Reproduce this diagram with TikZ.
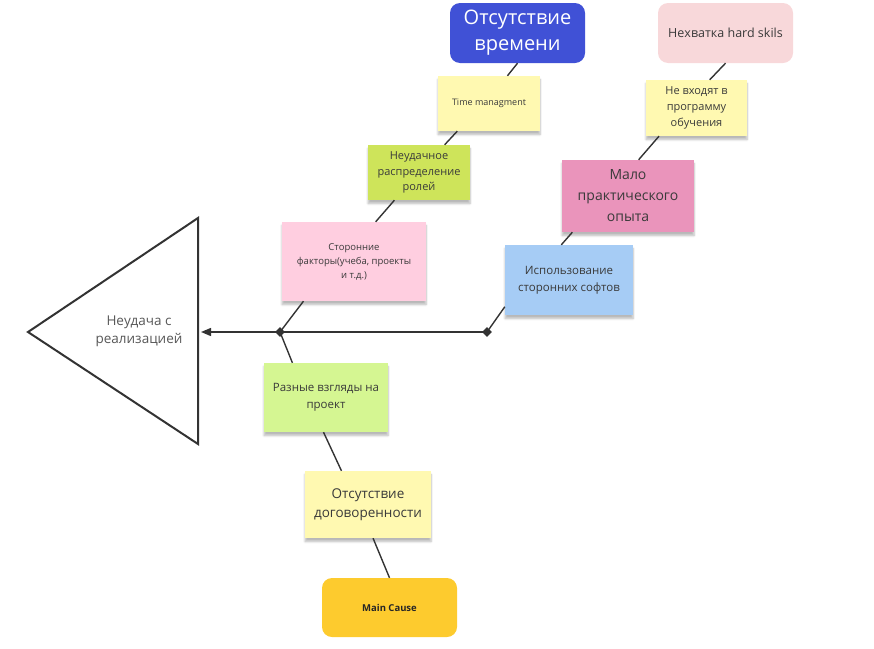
\documentclass[tikz,border=0pt]{standalone}
\usepackage{fontspec}
\setmainfont{Open Sans}
\usetikzlibrary{shapes.geometric,arrows.meta,calc,shadows.blur}
\definecolor{txt}{HTML}{3A3A3A}
\definecolor{linec}{HTML}{333333}
\definecolor{bluec}{HTML}{4051D6}
\definecolor{hardc}{HTML}{F8D8DA}
\definecolor{yellowc}{HTML}{FFF9B1}
\definecolor{limec}{HTML}{CEE45A}
\definecolor{lpinkc}{HTML}{FFCEE0}
\definecolor{lgreenc}{HTML}{D5F692}
\definecolor{pinkc}{HTML}{EA94BB}
\definecolor{lbluec}{HTML}{A6CCF5}
\definecolor{orangec}{HTML}{FDCB2E}
\begin{document}
\begin{tikzpicture}[x=1pt,y=-1pt,
  box/.style={draw=none, inner sep=0pt, align=center, text=txt},
  sticky/.style={box, blur shadow={shadow xshift=0pt,shadow yshift=-3.5pt,shadow opacity=28,shadow blur steps=6}},
  card/.style={box, rounded corners=10pt},
  bone/.style={draw=linec, line width=1.4pt},
  knot/.style={diamond, fill=linec, inner sep=0pt, minimum size=10pt},
  fsz/.style 2 args={font=\fontsize{#1}{#2}\selectfont}
]
\useasboundingbox (0,0) rectangle (874,648);
% head
\draw[draw=linec, line width=2pt, line join=miter] (28,332) -- (198,218) -- (198,444) -- cycle;
\node[box, text=txt!85, fsz={13.5}{18}] (fail) at (139,331) {Неудача с\\реализацией};
\coordinate (head) at (201,332);
% upper-left bone
\node[card, fill=bluec, text=white, minimum width=135pt, minimum height=60pt, fsz={20}{26}] (blue) at (517.5,33) {Отсутствие\\времени};
\node[sticky, fill=yellowc, minimum width=102pt, minimum height=55pt, fsz={9}{12}] (tm) at (489,103.5) {Time managment};
\node[sticky, fill=limec, minimum width=102pt, minimum height=55pt, fsz={11}{15.5}] (nr) at (419,172.5) {Неудачное\\распределение\\ролей};
\node[sticky, fill=lpinkc, minimum width=144pt, minimum height=79pt, fsz={9.5}{14}] (sf) at (354,261.5) {Сторонние\\факторы(учеба, проекты\\и т.д.)};
% lower bone
\node[sticky, fill=lgreenc, minimum width=124pt, minimum height=69pt, fsz={11.5}{17}] (rv) at (326,397.5) {Разные взгляды на\\проект};
\node[sticky, fill=yellowc, minimum width=126pt, minimum height=67pt, fsz={13.5}{19}] (od) at (368,504.5) {Отсутствие\\договоренности};
\node[card, fill=orangec, text=black!85, minimum width=135pt, minimum height=59pt, font=\fontsize{9.5}{12}\selectfont\bfseries] (mc) at (389.5,607.5) {Main Cause};
% right bone
\node[card, fill=hardc, minimum width=135pt, minimum height=60pt, fsz={12.5}{16}] (hard) at (725.5,33) {Нехватка hard skils};
\node[sticky, fill=yellowc, minimum width=101pt, minimum height=56pt, fsz={11}{16}] (nv) at (696.5,108) {Не входят в\\программу\\обучения};
\node[sticky, fill=pinkc, minimum width=132pt, minimum height=72pt, fsz={14}{21}] (mp) at (628,196) {Мало\\практического\\опыта};
\node[sticky, fill=lbluec, minimum width=128pt, minimum height=70pt, fsz={11.5}{17}] (is) at (569,280) {Использование\\сторонних софтов};
% knots
\node[knot] (d1) at (280,332) {};
\node[knot] (d2) at (487,332) {};
% spine
\draw[bone, -{Triangle[length=10pt,width=8pt]}] (d2.center) -- (head);
% connectors upper-left
\draw[bone] (blue.south) -- ($(tm.north west)!0.68!(tm.north east)$);
\draw[bone] ($(tm.south west)!0.19!(tm.south east)$) -- ($(nr.north west)!0.75!(nr.north east)$);
\draw[bone] ($(nr.south west)!0.26!(nr.south east)$) -- ($(sf.north west)!0.65!(sf.north east)$);
\draw[bone] ($(sf.south west)!0.15!(sf.south east)$) -- (d1.center);
% connectors lower
\draw[bone] (d1.center) -- ($(rv.north west)!0.23!(rv.north east)$);
\draw[bone] ($(rv.south west)!0.48!(rv.south east)$) -- ($(od.north west)!0.29!(od.north east)$);
\draw[bone] ($(od.south west)!0.54!(od.south east)$) -- (mc.north);
% connectors right
\draw[bone] (hard.south) -- ($(nv.north west)!0.63!(nv.north east)$);
\draw[bone] ($(nv.south west)!0.13!(nv.south east)$) -- ($(mp.north west)!0.58!(mp.north east)$);
\draw[bone] ($(mp.south west)!0.08!(mp.south east)$) -- ($(is.north west)!0.44!(is.north east)$);
\draw[bone] ($(is.north west)!0.88!(is.south west)$) -- (d2.center);
\end{tikzpicture}
\end{document}
